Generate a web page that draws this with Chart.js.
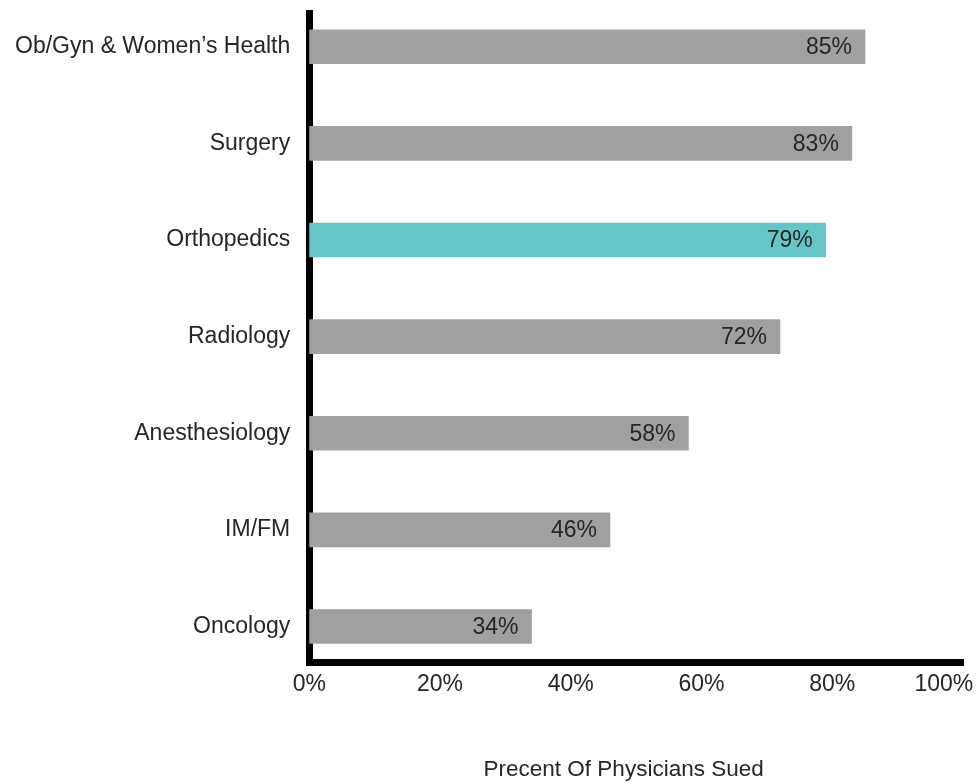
<!DOCTYPE html>
<html>
<head>
<meta charset="utf-8">
<script src="https://cdn.jsdelivr.net/npm/chart.js@4/dist/chart.umd.min.js"></script>
<style>
  body { margin: 0; background: #fff; }
</style>
</head>
<body>
<canvas id="suedChart" width="977" height="783"></canvas>
<script>
// chart data
const specialties = ['Ob/Gyn & Women\u2019s Health', 'Surgery', 'Orthopedics', 'Radiology', 'Anesthesiology', 'IM/FM', 'Oncology'];
const percentSued = [85, 83, 79, 72, 58, 46, 34];
const highlighted = 'Orthopedics';
const xTicks = [0, 20, 40, 60, 80, 100];

const FONT = '"Liberation Sans", Arial, Helvetica, sans-serif';
const TEXT = '#262626';
const NBSP = '\u00a0';

//writes the % value just inside the end of each bar
const valueLabels = {
    id: 'valueLabels',
    afterDatasetsDraw(chart) {
        const ctx = chart.ctx;
        const meta = chart.getDatasetMeta(0);
        ctx.save();
        ctx.font = '23px ' + FONT;
        ctx.fillStyle = TEXT;
        ctx.textAlign = 'right';
        ctx.textBaseline = 'middle';
        meta.data.forEach((bar, i) => {
            ctx.fillText(percentSued[i] + '%', bar.x - 13, bar.y + 1);
        });
        ctx.restore();
    }
};

const ctx = document.getElementById('suedChart').getContext('2d');
const suedChart = new Chart(ctx, {
    type: 'bar',
    data: {
        datasets: [{
            data: percentSued.map((v, i) => ({ x: v, y: i })),
            backgroundColor: specialties.map(s => s == highlighted ? '#66c5c8' : '#a0a0a0'),
            barThickness: 34,
            borderWidth: 0
        }]
    },
    options: {
        indexAxis: 'y',
        responsive: false,
        animation: false,
        layout: { padding: { top: 0, left: 15, right: 0, bottom: 0 } },
        plugins: {
            legend: { display: false },
            tooltip: { enabled: false }
        },
        scales: {
            x: {
                type: 'linear',
                min: 0,
                max: 100,
                bounds: 'data',
                afterBuildTicks: (scale) => { scale.ticks = xTicks.map(v => ({ value: v })); },
                // last label sits left of its tick in the original, so the plot can run almost to the edge
                afterFit: (scale) => { scale.paddingRight = 14; },
                grid: { display: false, drawTicks: true, tickLength: 8 },
                border: { display: true, color: '#000', width: 7 },
                ticks: {
                    color: TEXT,
                    font: { family: FONT, size: 23 },
                    padding: 0,
                    callback: (v) => v == 100 ? v + '%' + NBSP.repeat(6) : v + '%'
                },
                title: {
                    display: true,
                    text: 'Precent Of Physicians Sued' + NBSP.repeat(4),
                    color: TEXT,
                    font: { family: FONT, size: 22.5 },
                    padding: { top: 58, bottom: 0 }
                }
            },
            y: {
                type: 'linear',
                reverse: true,
                offset: false,
                bounds: 'data',
                min: -0.341,
                max: 6.372,
                afterBuildTicks: (scale) => { scale.ticks = specialties.map((s, i) => ({ value: i })); },
                grid: { display: false, drawTicks: true, tickLength: 19 },
                border: { display: true, color: '#000', width: 7 },
                ticks: {
                    color: TEXT,
                    font: { family: FONT, size: 23 },
                    padding: 0,
                    callback: (v) => specialties[v]
                }
            }
        }
    },
    plugins: [valueLabels]
});
</script>
</body>
</html>
